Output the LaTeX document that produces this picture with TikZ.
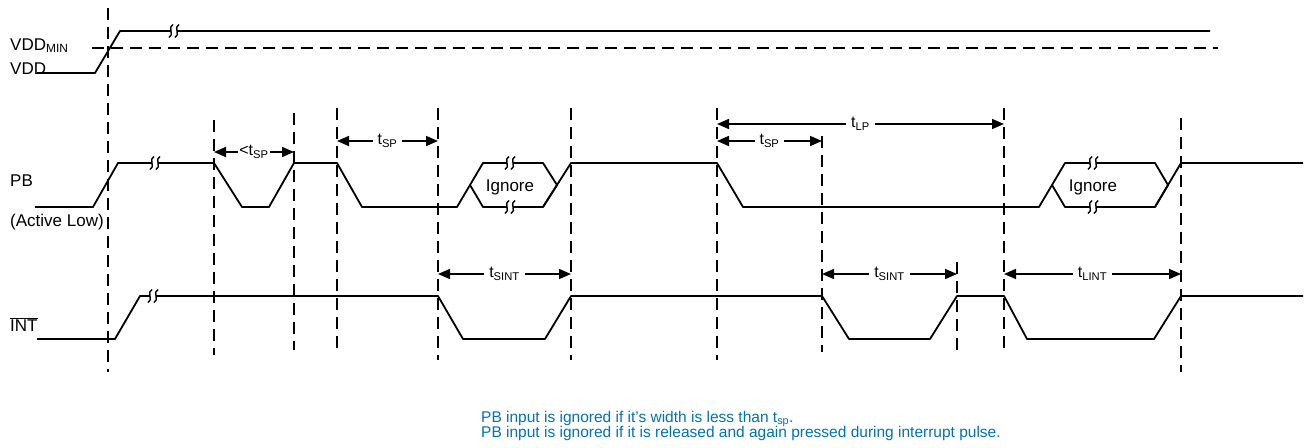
\documentclass[tikz,border=0pt]{standalone}
\usepackage{fontspec}
\setmainfont{Liberation Sans}
\usepackage{xcolor}
\usetikzlibrary{arrows.meta}
\definecolor{noteblue}{RGB}{0,112,192}
\tikzstyle{sig} = [line width=1.8pt, line join=round]
\tikzstyle{guide} = [line width=1.6pt, dash pattern=on 12pt off 7pt]
\tikzstyle{dimarrow} = [line width=1.6pt, {Triangle[length=12pt,width=10pt]}-{Triangle[length=12pt,width=10pt]}]
\tikzstyle{tlabel} = [fill=white, inner xsep=5pt, inner ysep=1pt, font=\fontsize{16}{18}\selectfont]
\tikzstyle{lbl} = [inner sep=0pt, anchor=base west, font=\fontsize{17}{20}\selectfont]
\tikzstyle{ignlbl} = [inner sep=0pt, anchor=base, font=\fontsize{17}{20}\selectfont]
\tikzstyle{note} = [inner sep=0pt, anchor=base west, text=noteblue, font=\fontsize{15.5}{16}\selectfont]
\tikzset{brk/.pic={
  \fill[white] (-3,-1.6) rectangle (3,1.6);
  \draw[line width=1.4pt] (-1,-6.5) .. controls (-7,-4) and (1,4) .. (-5,6.5);
  \draw[line width=1.4pt] (5,-6.5) .. controls (-1,-4) and (7,4) .. (1,6.5);
}}

\begin{document}
\begin{tikzpicture}[x=1pt,y=-1pt]
\useasboundingbox (0,0) rectangle (1305,447);
% guide lines
\draw[guide] (92,48) -- (1218,48);
\foreach \x/\a/\b in {108/8/372, 214/120/355, 294/113/350, 337/108/355, 438/108/360,
  571/108/360, 717/108/360, 822/136/352, 957/262/352, 1004/108/355, 1181/118/372}
  \draw[guide] (\x,\a) -- (\x,\b);
% labels
\node (vddmin) [lbl] at (10,50) {VDD\textsubscript{MIN}};
\node (vdd) [lbl] at (10,74) {VDD};
\node (pb) [lbl] at (10,186) {PB};
\node (actlow) [lbl] at (10,226) {(Active Low)};
\node (int) [lbl] at (10,331) {$\overline{\mbox{INT}}$};
% VDD
\draw[sig] (37,73) -- (95,73) -- (120,31) -- (1210,31);
\pic at (174,31) {brk};
% PB
\draw[sig] (35,207) -- (93,207) -- (118,163) -- (214,163) -- (242,207) -- (269,207) -- (294,163)
  -- (337,163) -- (362,207) -- (457,207) -- (483,163) -- (543,163) -- (557,185) -- (543,207)
  -- (483,207) -- (470,185);
\draw[sig] (543,207) -- (571,163) -- (717,163) -- (743,207) -- (1039,207) -- (1065,163)
  -- (1155,163) -- (1168,185) -- (1155,207) -- (1065,207) -- (1052,185);
\draw[sig] (1155,207) -- (1181,163) -- (1303,163);
\pic at (155,163) {brk};
\pic at (510,163) {brk};
\pic at (510,207) {brk};
\pic at (1093,163) {brk};
\pic at (1093,207) {brk};
\node (ign1) [ignlbl] at (510,191) {Ignore};
\node (ign2) [ignlbl] at (1093,191) {Ignore};
% INT
\draw[sig] (37,339) -- (115,339) -- (140,296) -- (438,296) -- (463,339) -- (545,339) -- (571,296)
  -- (822,296) -- (849,339) -- (930,339) -- (957,296) -- (1004,296) -- (1027,339) -- (1154,339)
  -- (1181,296) -- (1303,296);
\pic at (153,296) {brk};
% timing
\coordinate (sp0a) at (214,152);
\coordinate (sp0b) at (294,152);
\coordinate (sp1a) at (337,141);
\coordinate (sp1b) at (438,141);
\coordinate (sp2a) at (717,141);
\coordinate (sp2b) at (822,141);
\coordinate (lpa) at (717,124);
\coordinate (lpb) at (1004,124);
\coordinate (si1a) at (438,274);
\coordinate (si1b) at (571,274);
\coordinate (si2a) at (822,274);
\coordinate (si2b) at (957,274);
\coordinate (lia) at (1004,274);
\coordinate (lib) at (1181,274);
\draw[dimarrow] (sp0a) -- (sp0b) node[midway, tlabel, inner xsep=1pt] {<t\textsubscript{SP}};
\draw[dimarrow] (sp1a) -- (sp1b) node[midway, tlabel] {t\textsubscript{SP}};
\draw[dimarrow] (sp2a) -- (sp2b) node[midway, tlabel] {t\textsubscript{SP}};
\draw[dimarrow] (lpa) -- (lpb) node[midway, tlabel] {t\textsubscript{LP}};
\draw[dimarrow] (si1a) -- (si1b) node[midway, tlabel] {t\textsubscript{SINT}};
\draw[dimarrow] (si2a) -- (si2b) node[midway, tlabel] {t\textsubscript{SINT}};
\draw[dimarrow] (lia) -- (lib) node[midway, tlabel] {t\textsubscript{LINT}};
% notes
\node (note1) [note] at (481,422) {PB input is ignored if it’s width is less than t\textsubscript{sp}.};
\node (note2) [note] at (481,437) {PB input is ignored if it is released and again pressed during interrupt pulse.};
\end{tikzpicture}
\end{document}
